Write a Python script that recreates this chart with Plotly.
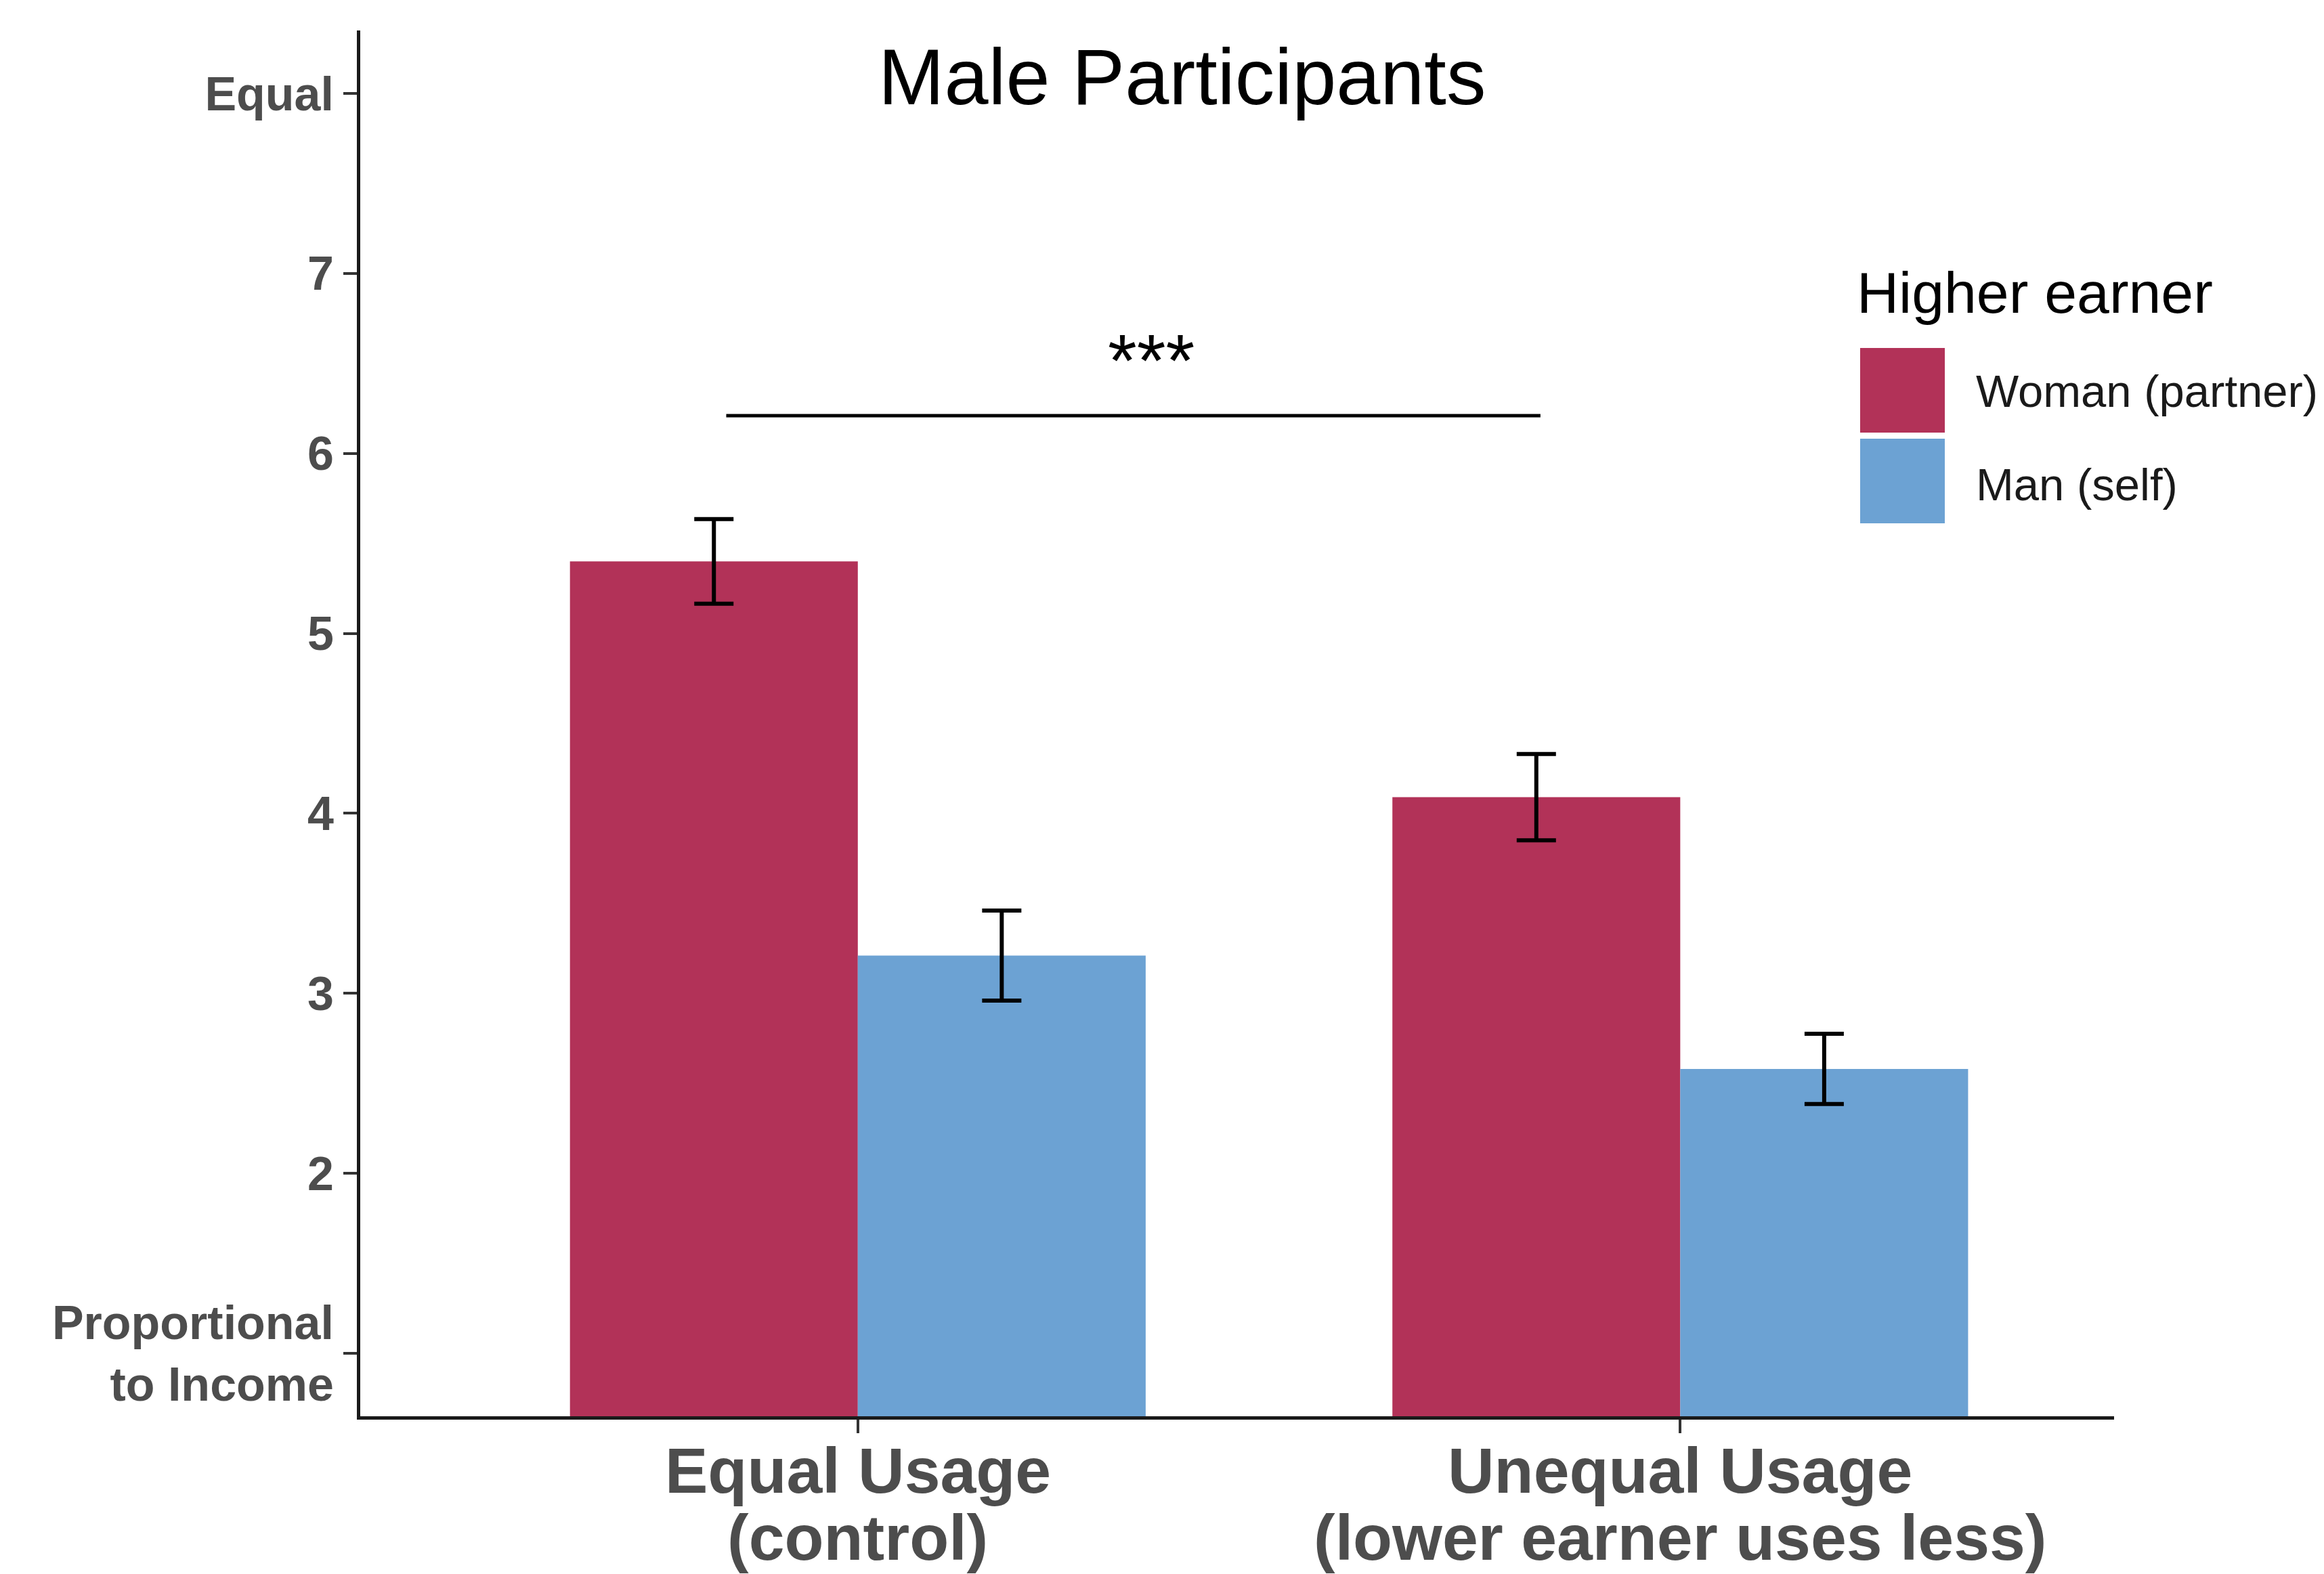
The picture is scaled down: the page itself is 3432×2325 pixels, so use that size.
import plotly.graph_objects as go

# ---- data ----
categories = ["Equal Usage (control)", "Unequal Usage (lower earner uses less)"]
cat_line1 = ["Equal Usage", "Unequal Usage"]
cat_line2 = ["(control)", "(lower earner uses less)"]
series_names = ["Woman (partner)", "Man (self)"]
woman_mean = [5.40, 4.09]
woman_se = [0.235, 0.240]
man_mean = [3.21, 2.58]
man_se = [0.25, 0.195]
y_tickvals = [1, 2, 3, 4, 5, 6, 7, 8]
y_ticktext = ["Proportional<br>to Income", "2", "3", "4", "5", "6", "7", "Equal"]
sig_label = "***"
sig_y = 6.21
legend_title = "Higher earner"
title_text = "Male Participants"

colors = ["#B23258", "#6CA2D3"]
FONT = "Liberation Sans, Arial, Helvetica, sans-serif"

fig = go.Figure()
for name, vals, errs, col in [
    (series_names[0], woman_mean, woman_se, colors[0]),
    (series_names[1], man_mean, man_se, colors[1]),
]:
    fig.add_trace(go.Bar(
        x=categories, y=vals, name=name,
        marker=dict(color=col, line=dict(width=0)),
        error_y=dict(type="data", array=errs, visible=True,
                     color="black", thickness=6, width=29),
        showlegend=False,
    ))

W, H = 3432, 2325
L, R, T, B = 532, 310, 45, 233

fig.update_layout(
    width=W, height=H,
    barmode="group", bargap=0.3, bargroupgap=0,
    plot_bgcolor="white", paper_bgcolor="white",
    margin=dict(l=L, r=R, t=T, b=B, pad=0, autoexpand=False),
    font=dict(family=FONT, color="black"),
)

fig.update_xaxes(
    type="category", range=[-0.605, 1.5275],
    showline=True, linecolor="#1a1a1a", linewidth=5,
    ticks="outside", ticklen=20, tickwidth=4, tickcolor="#333333",
    showticklabels=False, automargin=False,
    showgrid=False, zeroline=False, fixedrange=True,
)
fig.update_yaxes(
    range=[0.65, 8.35], automargin=False,
    tickmode="array", tickvals=y_tickvals, ticktext=y_ticktext,
    showline=True, linecolor="#1a1a1a", linewidth=5,
    ticks="outside", ticklen=20, tickwidth=4, tickcolor="#333333",
    ticklabelstandoff=0,
    tickfont=dict(family=FONT, size=70, color="#4D4D4D", weight="bold"),
    showgrid=False, zeroline=False,
)


def px(xp):
    return (xp - L) / (W - L - R)


def py(yp):
    return 1 - (yp - T) / (H - T - B)


# category labels (two lines each, tighter line spacing like the reference)
for cat, l1, l2 in zip(categories, cat_line1, cat_line2):
    fig.add_annotation(xref="x", yref="paper", x=cat, y=py(2172),
                       text=l1, showarrow=False,
                       font=dict(family=FONT, size=95, color="#4D4D4D", weight="bold"),
                       xanchor="center", yanchor="middle")
    fig.add_annotation(xref="x", yref="paper", x=cat, y=py(2271),
                       text=l2, showarrow=False,
                       font=dict(family=FONT, size=95, color="#4D4D4D", weight="bold"),
                       xanchor="center", yanchor="middle")

# significance bracket
fig.add_shape(type="line", xref="x", yref="y",
              x0=-0.16, x1=0.83, y0=sig_y, y1=sig_y,
              line=dict(color="black", width=5))
fig.add_annotation(xref="x", yref="y", x=0.357, y=sig_y + 0.07,
                   text=sig_label, showarrow=False,
                   font=dict(family=FONT, size=110, color="black"),
                   xanchor="center", yanchor="bottom")

# title
fig.add_annotation(xref="paper", yref="paper",
                   x=px(1745), y=py(113),
                   text=title_text, showarrow=False,
                   font=dict(family=FONT, size=117, color="black"),
                   xanchor="center", yanchor="middle")

# legend (manual)
fig.add_annotation(xref="paper", yref="paper", x=px(2740), y=py(432),
                   text=legend_title, showarrow=False,
                   font=dict(family=FONT, size=86, color="black"),
                   xanchor="left", yanchor="middle")
swatches = [(514, 639), (648, 773)]
label_y = [577, 715]
for (y0, y1), ly, name, col in zip(swatches, label_y, series_names, colors):
    fig.add_shape(type="rect", xref="paper", yref="paper",
                  x0=px(2747), x1=px(2872), y0=py(y1), y1=py(y0),
                  fillcolor=col, line=dict(width=0))
    fig.add_annotation(xref="paper", yref="paper", x=px(2916), y=py(ly),
                       text=name, showarrow=False,
                       font=dict(family=FONT, size=67, color="#1a1a1a"),
                       xanchor="left", yanchor="middle")

fig.write_html("out.html",
               config={"displayModeBar": False},
               post_script="document.body.style.margin='0';document.body.style.overflow='hidden';")
